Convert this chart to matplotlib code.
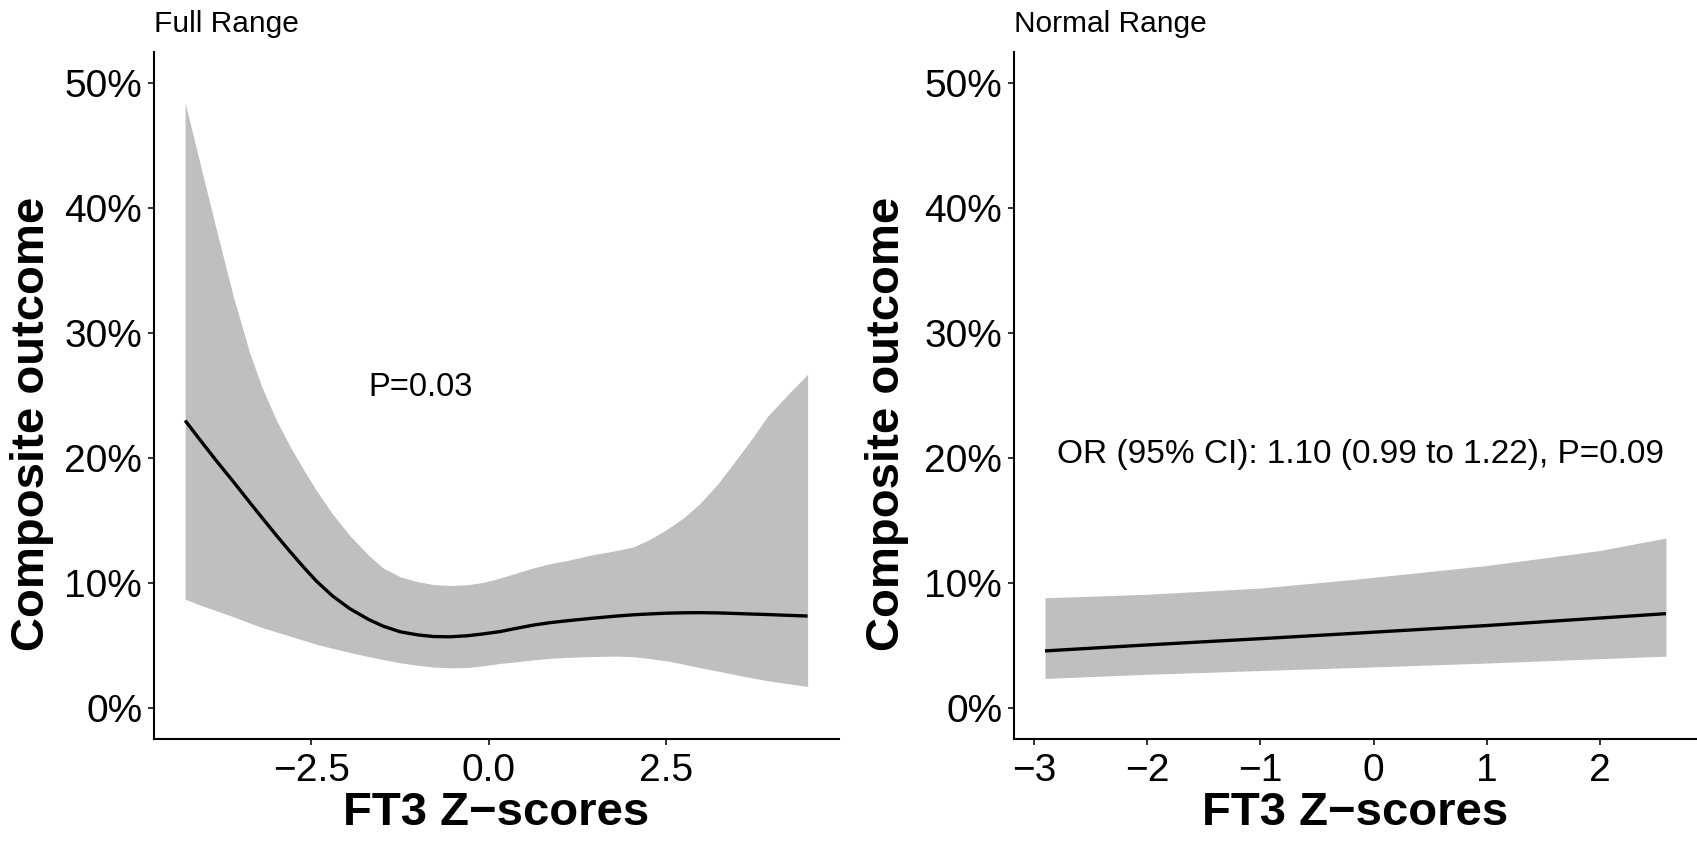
import numpy as np
import matplotlib
matplotlib.use("Agg")
import matplotlib.pyplot as plt
from matplotlib.ticker import FixedLocator, FixedFormatter

plt.rcParams['font.family'] = ['Liberation Sans', 'DejaVu Sans']

# left panel: full range (x, fitted %, lower %, upper %)
full_x = [-4.28, -4.05, -3.85, -3.6, -3.37, -3.2, -3.0, -2.8, -2.6, -2.43, -2.2, -1.96,
          -1.7, -1.49, -1.25, -1.0, -0.78, -0.55, -0.31, -0.08, 0.16, 0.39, 0.62, 0.86,
          1.10, 1.45, 1.80, 2.04, 2.27, 2.51, 2.75, 2.98, 3.22, 3.45, 3.70, 3.92, 4.2, 4.49]
full_fit = [23.0, 21.3, 19.85, 18.1, 16.45, 15.25, 13.85, 12.5, 11.2, 10.15, 8.95, 7.95,
            7.1, 6.55, 6.1, 5.85, 5.72, 5.7, 5.78, 5.93, 6.12, 6.38, 6.63, 6.83,
            6.98, 7.18, 7.36, 7.46, 7.53, 7.59, 7.62, 7.63, 7.61, 7.57, 7.52, 7.48, 7.42, 7.36]
full_lo = [8.7, 8.2, 7.8, 7.3, 6.8, 6.45, 6.1, 5.75, 5.4, 5.1, 4.78, 4.45,
           4.12, 3.88, 3.62, 3.42, 3.28, 3.22, 3.24, 3.38, 3.57, 3.7, 3.85, 3.98,
           4.05, 4.12, 4.16, 4.1, 3.96, 3.77, 3.5, 3.22, 2.96, 2.7, 2.42, 2.2, 1.96, 1.73]
full_hi = [48.4, 43.1, 38.5, 32.9, 28.4, 25.7, 23.1, 20.9, 18.96, 17.4, 15.5, 13.8,
           12.25, 11.2, 10.5, 10.1, 9.88, 9.8, 9.86, 10.05, 10.4, 10.8, 11.2, 11.55,
           11.8, 12.25, 12.6, 12.9, 13.5, 14.3, 15.25, 16.4, 17.9, 19.6, 21.5, 23.3, 25.0, 26.7]

# right panel: normal range
norm_x = [-2.904, -2.0, -1.0, -0.168, 1.0, 2.0, 2.584]
norm_fit = [4.57, 5.05, 5.55, 5.98, 6.6, 7.2, 7.55]
norm_lo = [2.37, 2.7, 3.0, 3.24, 3.6, 3.95, 4.15]
norm_hi = [8.82, 9.1, 9.6, 10.3, 11.4, 12.6, 13.6]

y_ticks = [0, 10, 20, 30, 40, 50]
y_labels = ['0%', '10%', '20%', '30%', '40%', '50%']
full_xticks = [-2.5, 0.0, 2.5]
full_xlabels = ['\u22122.5', '0.0', '2.5']
norm_xticks = [-3, -2, -1, 0, 1, 2]
norm_xlabels = ['\u22123', '\u22122', '\u22121', '0', '1', '2']

band_col = '#bfbfbf'

fig = plt.figure(figsize=(16.97, 8.43), dpi=100)
ax1 = fig.add_axes([0.09075, 0.1230, 0.4035, 0.8157])
ax2 = fig.add_axes([0.5975, 0.1230, 0.4025, 0.8157])


def style(ax, xs, xticks, xlabels, title, ylab_x):
    lo_x, hi_x = min(xs), max(xs)
    pad = (hi_x - lo_x) * 0.05
    ax.set_xlim(lo_x - pad, hi_x + pad)
    ax.set_ylim(-2.5, 52.5)
    ax.yaxis.set_major_locator(FixedLocator(y_ticks))
    ax.yaxis.set_major_formatter(FixedFormatter(y_labels))
    ax.xaxis.set_major_locator(FixedLocator(xticks))
    ax.xaxis.set_major_formatter(FixedFormatter(xlabels))
    for s in ['top', 'right']:
        ax.spines[s].set_visible(False)
    for s in ['left', 'bottom']:
        ax.spines[s].set_linewidth(1.5)
    ax.tick_params(axis='both', labelsize=28, width=1.4, length=4.5, color='#333333',
                   labelcolor='black')
    ax.tick_params(axis='x', pad=5)
    ax.tick_params(axis='y', pad=4)
    ax.set_xlabel('FT3 Z\u2212scores', fontsize=34, fontweight='bold', labelpad=2)
    ax.set_ylabel('Composite outcome', fontsize=34, fontweight='bold')
    ax.yaxis.set_label_coords(ylab_x, 0.4586)
    ax.set_title(title, loc='left', fontsize=21.5, pad=14)


ax1.fill_between(full_x, full_lo, full_hi, color=band_col, lw=0)
ax1.plot(full_x, full_fit, color='black', lw=2.4, solid_capstyle='butt')
style(ax1, full_x, full_xticks, full_xlabels, 'Full Range', -0.146)
ax1.text(-0.97, 25.6, 'P=0.03', fontsize=23.5, ha='center', va='center')

ax2.fill_between(norm_x, norm_lo, norm_hi, color=band_col, lw=0)
ax2.plot(norm_x, norm_fit, color='black', lw=2.4, solid_capstyle='butt')
style(ax2, norm_x, norm_xticks, norm_xlabels, 'Normal Range', -0.154)
ax2.text(-0.12, 20.3, 'OR (95% CI): 1.10 (0.99 to 1.22), P=0.09', fontsize=24,
         ha='center', va='center')

fig.savefig('out.png', dpi=100)
